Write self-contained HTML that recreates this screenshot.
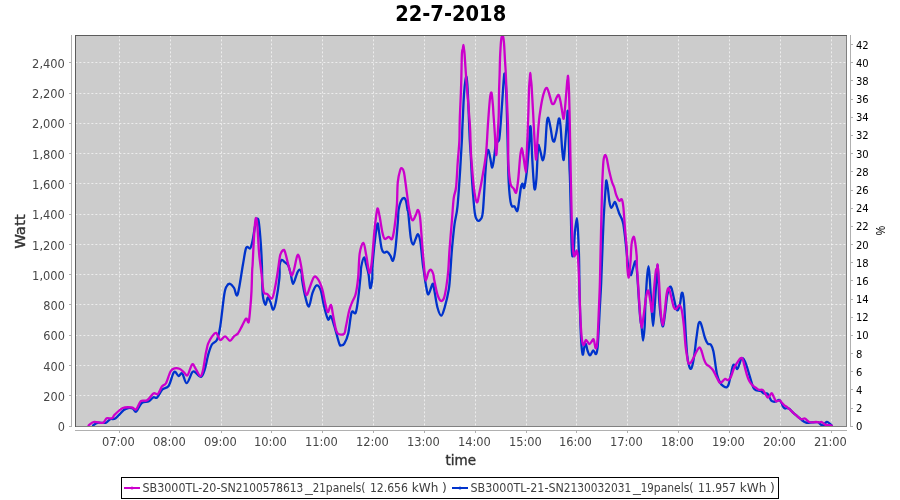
<!DOCTYPE html>
<html lang="en"><head><meta charset="utf-8"><title>22-7-2018</title>
<style>html,body{margin:0;padding:0;background:#fff;overflow:hidden}svg{display:block}text{font-family:"DejaVu Sans Condensed", "Liberation Sans", sans-serif}text.l{font-family:"Liberation Sans",sans-serif}text.w,g.w text{font-family:"DejaVu Sans","Liberation Sans",sans-serif}</style></head><body>
<svg width="900" height="500" viewBox="0 0 900 500">
<rect x="0" y="0" width="900" height="500" fill="#ffffff"/>
<text x="450.7" y="20.8" font-size="20.5" font-weight="bold" text-anchor="middle" fill="#000" textLength="111" lengthAdjust="spacingAndGlyphs">22-7-2018</text>
<rect x="75" y="35" width="772" height="392" fill="#cccccc"/>
<g stroke="#ffffff" stroke-width="1" stroke-dasharray="2 2" stroke-opacity="0.64">
<line x1="75.4" y1="395.5" x2="846" y2="395.5"/>
<line x1="75.4" y1="365.5" x2="846" y2="365.5"/>
<line x1="75.4" y1="335.5" x2="846" y2="335.5"/>
<line x1="75.4" y1="304.5" x2="846" y2="304.5"/>
<line x1="75.4" y1="274.5" x2="846" y2="274.5"/>
<line x1="75.4" y1="244.5" x2="846" y2="244.5"/>
<line x1="75.4" y1="214.5" x2="846" y2="214.5"/>
<line x1="75.4" y1="183.5" x2="846" y2="183.5"/>
<line x1="75.4" y1="153.5" x2="846" y2="153.5"/>
<line x1="75.4" y1="123.5" x2="846" y2="123.5"/>
<line x1="75.4" y1="93.5" x2="846" y2="93.5"/>
<line x1="75.4" y1="62.5" x2="846" y2="62.5"/>
<line x1="119.5" y1="35.4" x2="119.5" y2="426"/>
<line x1="170.5" y1="35.4" x2="170.5" y2="426"/>
<line x1="221.5" y1="35.4" x2="221.5" y2="426"/>
<line x1="271.5" y1="35.4" x2="271.5" y2="426"/>
<line x1="322.5" y1="35.4" x2="322.5" y2="426"/>
<line x1="373.5" y1="35.4" x2="373.5" y2="426"/>
<line x1="424.5" y1="35.4" x2="424.5" y2="426"/>
<line x1="475.5" y1="35.4" x2="475.5" y2="426"/>
<line x1="526.5" y1="35.4" x2="526.5" y2="426"/>
<line x1="576.5" y1="35.4" x2="576.5" y2="426"/>
<line x1="627.5" y1="35.4" x2="627.5" y2="426"/>
<line x1="678.5" y1="35.4" x2="678.5" y2="426"/>
<line x1="729.5" y1="35.4" x2="729.5" y2="426"/>
<line x1="780.5" y1="35.4" x2="780.5" y2="426"/>
<line x1="831.5" y1="35.4" x2="831.5" y2="426"/>
</g>
<clipPath id="pc"><rect x="75" y="35" width="772" height="392"/></clipPath>
<g clip-path="url(#pc)" fill="none" stroke-width="2.3" stroke-linejoin="round" stroke-linecap="round">
<path stroke="#0033cc" d="M93.1,425.5C93.8,425.1 95.5,423.2 97.6,422.8C99.7,422.4 103.6,423.4 105.7,422.8C107.8,422.2 108.6,419.9 110.2,419.2C111.8,418.4 113.3,419.8 115.6,418.3C117.8,416.8 121.6,411.9 123.7,410.2C125.8,408.5 126.7,408.3 128.2,408.0C129.7,407.7 131.3,407.8 132.7,408.4C134.0,409.0 134.8,412.5 136.3,411.6C137.8,410.7 139.6,404.7 141.7,403.0C143.8,401.3 146.9,402.2 148.9,401.2C150.9,400.2 152.1,397.8 153.4,397.2C154.8,396.6 155.5,398.9 157.0,397.6C158.5,396.3 160.5,391.4 162.4,389.5C164.3,387.6 166.8,388.8 168.7,385.9C170.6,383.0 172.4,373.6 174.1,372.0C175.8,370.4 177.2,375.8 178.6,376.0C179.9,376.2 180.8,372.1 182.2,373.3C183.5,374.5 185.0,383.4 186.7,383.2C188.3,383.0 190.8,374.3 192.1,372.4C193.4,370.5 193.3,371.2 194.8,372.0C196.3,372.8 199.4,377.3 201.1,376.9C202.8,376.5 203.5,373.4 204.7,369.7C205.9,365.9 207.1,358.6 208.3,354.4C209.5,350.2 210.5,346.9 211.9,344.5C213.3,342.1 215.6,342.7 217.0,339.7C218.4,336.7 219.0,334.3 220.2,326.7C221.4,319.1 223.2,301.1 224.3,294.3C225.4,287.6 225.8,287.9 226.7,286.2C227.6,284.4 228.8,283.5 230.0,283.8C231.2,284.1 232.7,286.0 234.0,287.8C235.3,289.6 236.1,298.4 237.6,294.6C239.1,290.8 241.5,272.6 242.9,264.8C244.3,257.0 245.0,250.6 246.2,247.8C247.4,245.1 249.1,249.5 250.2,248.3C251.3,247.1 251.8,244.2 252.6,240.5C253.4,236.8 254.3,229.6 255.1,225.9C255.9,222.2 256.8,218.9 257.5,218.6C258.2,218.3 258.6,220.4 259.1,224.3C259.6,228.2 260.2,235.3 260.7,242.1C261.2,248.8 261.6,256.9 261.9,264.8C262.2,272.7 262.2,283.8 262.4,289.4C262.6,295.0 262.7,295.7 263.2,298.3C263.7,300.9 264.9,304.9 265.6,304.8C266.4,304.7 266.9,297.9 267.7,297.5C268.5,297.1 269.6,300.4 270.5,302.4C271.4,304.4 272.3,310.0 273.2,309.7C274.1,309.4 275.1,306.1 276.1,300.8C277.1,295.5 278.8,284.1 279.4,278.1C280.0,272.1 279.3,267.8 279.7,264.8C280.1,261.8 280.9,260.3 281.8,259.9C282.7,259.5 283.9,261.4 285.0,262.4C286.1,263.3 287.4,263.7 288.3,265.6C289.2,267.5 289.9,270.7 290.7,273.7C291.5,276.7 292.0,283.9 293.1,283.8C294.2,283.7 296.1,275.2 297.2,272.9C298.3,270.5 298.9,269.6 299.6,269.7C300.4,269.8 301.3,272.0 301.7,273.7C302.1,275.4 301.5,275.9 302.1,279.7C302.7,283.5 304.2,292.2 305.3,296.7C306.4,301.1 307.7,307.1 308.9,306.4C310.1,305.7 311.3,296.2 312.6,292.7C313.9,289.2 315.2,285.8 316.6,285.4C318.0,285.0 319.5,286.8 320.7,290.2C321.9,293.6 322.7,300.7 323.9,305.6C325.1,310.5 326.8,317.6 328.0,319.4C329.2,321.2 329.8,315.0 330.9,316.2C332.0,317.4 333.1,322.1 334.5,326.7C335.9,331.3 338.2,340.6 339.3,343.7C340.4,346.8 340.3,345.3 341.1,345.3C341.9,345.3 343.1,345.7 344.3,343.7C345.5,341.7 347.1,338.4 348.3,333.2C349.5,328.0 350.4,315.8 351.6,312.4C352.8,309.0 354.5,315.1 355.6,312.9C356.7,310.7 357.3,305.3 358.1,299.2C358.9,293.1 360.0,282.0 360.5,276.5C361.0,271.0 360.7,269.6 361.3,266.4C361.9,263.2 363.3,257.8 364.1,257.5C364.9,257.2 365.4,262.0 366.2,264.8C366.9,267.6 367.9,270.6 368.6,274.5C369.3,278.4 369.6,287.2 370.2,288.1C370.8,289.0 371.8,283.6 372.2,279.7C372.6,275.8 372.1,271.6 372.6,264.8C373.1,258.0 374.3,245.8 375.1,238.9C375.9,232.0 376.8,224.6 377.5,223.5C378.2,222.4 378.4,228.2 379.1,232.4C379.8,236.6 380.8,245.2 381.6,248.6C382.4,252.0 383.1,252.1 384.0,252.6C384.9,253.1 386.1,251.2 387.2,251.8C388.3,252.4 389.6,254.4 390.5,255.9C391.4,257.4 392.1,261.6 392.9,260.7C393.7,259.8 394.5,256.5 395.3,250.2C396.1,243.9 397.2,229.4 397.8,222.7C398.4,215.9 398.1,213.4 398.6,209.7C399.2,206.0 400.2,202.6 401.1,200.7C402.0,198.8 403.2,198.0 404.0,198.0C404.8,198.0 405.3,198.8 405.9,200.7C406.5,202.6 407.1,207.6 407.5,209.7C407.9,211.8 407.8,208.4 408.3,213.0C408.8,217.6 409.9,232.1 410.7,237.3C411.5,242.6 412.3,244.2 413.1,244.5C413.9,244.8 414.8,240.6 415.6,238.9C416.4,237.2 417.2,233.8 418.0,234.3C418.8,234.8 419.6,237.0 420.4,242.1C421.2,247.2 422.3,260.2 422.9,264.8C423.4,269.4 423.2,266.4 423.7,270.0C424.2,273.6 425.3,282.1 426.1,286.2C426.9,290.2 427.4,294.7 428.5,294.3C429.6,293.9 431.7,284.6 432.6,283.8C433.6,283.0 433.4,285.5 434.2,289.4C435.0,293.3 436.2,302.9 437.4,307.3C438.6,311.7 440.0,315.7 441.2,315.7C442.4,315.7 443.4,311.7 444.7,307.3C446.0,302.9 447.8,295.6 448.8,289.4C449.8,283.2 450.0,276.8 450.5,270.0C451.0,263.2 451.3,256.2 452.0,248.6C452.7,241.0 453.6,231.3 454.5,224.3C455.4,217.3 456.6,215.6 457.5,206.4C458.4,197.2 459.5,180.3 460.2,169.2C460.9,158.1 461.5,147.1 461.9,140.0C462.3,132.9 462.0,134.3 462.4,126.7C462.8,119.1 463.5,102.3 464.0,94.3C464.5,86.3 465.2,81.6 465.6,78.9C466.1,76.2 466.3,75.5 466.7,78.1C467.1,80.7 467.5,86.2 467.9,94.3C468.3,102.4 468.9,118.8 469.2,126.7C469.5,134.7 469.6,137.1 469.9,142.0C470.2,146.9 470.4,149.0 470.8,156.2C471.2,163.4 471.7,175.9 472.4,185.4C473.1,194.9 474.0,207.1 474.8,212.9C475.6,218.7 476.4,219.1 477.3,220.2C478.2,221.3 479.6,220.9 480.5,219.4C481.4,217.9 482.1,219.1 482.9,211.3C483.7,203.5 484.7,182.1 485.4,172.4C486.1,162.7 486.5,156.7 487.0,153.0C487.5,149.3 488.1,149.7 488.6,150.5C489.1,151.3 489.6,155.0 490.2,157.8C490.8,160.6 491.6,167.8 492.3,167.5C493.0,167.2 493.7,160.5 494.3,156.2C494.9,151.9 495.5,144.1 495.9,141.6C496.3,139.1 496.2,141.6 496.7,141.3C497.2,141.0 498.4,142.7 499.1,139.7C499.8,136.7 500.1,130.2 500.7,123.5C501.2,116.8 501.8,107.0 502.4,99.2C502.9,91.4 503.6,80.7 504.0,76.5C504.4,72.3 504.5,73.5 504.8,74.0C505.1,74.5 505.3,75.4 505.6,79.7C505.9,84.0 506.2,91.6 506.5,100.0C506.8,108.4 507.1,120.0 507.3,130.0C507.6,140.0 507.8,151.1 508.0,160.0C508.2,168.9 508.4,176.8 508.8,183.7C509.2,190.6 509.9,197.8 510.5,201.6C511.1,205.4 511.4,205.6 512.1,206.4C512.8,207.2 513.6,205.6 514.5,206.4C515.4,207.2 516.6,212.3 517.4,211.0C518.2,209.7 518.8,202.3 519.4,198.3C520.0,194.3 520.5,189.4 521.0,187.0C521.5,184.6 522.1,183.6 522.6,183.7C523.1,183.8 523.5,189.7 524.2,187.8C524.9,185.9 525.9,179.0 526.7,172.4C527.5,165.8 528.2,155.7 528.8,148.1C529.4,140.5 529.8,128.9 530.2,126.7C530.6,124.5 530.9,129.6 531.3,135.0C531.6,140.4 531.8,150.5 532.3,159.4C532.8,168.3 533.7,185.3 534.4,188.6C535.1,191.8 535.8,185.7 536.4,178.9C537.0,172.2 537.5,153.5 538.0,148.1C538.5,142.7 538.6,145.7 539.1,146.5C539.6,147.3 540.2,150.7 540.8,153.0C541.4,155.3 542.2,160.8 542.9,160.2C543.6,159.6 544.4,155.7 545.0,149.7C545.6,143.7 546.2,129.6 546.7,124.3C547.2,119.0 547.7,117.3 548.3,117.8C548.9,118.3 549.8,124.0 550.5,127.5C551.2,131.0 551.8,136.6 552.4,138.9C553.0,141.2 553.6,142.4 554.3,141.3C555.0,140.2 555.6,136.2 556.4,132.4C557.2,128.6 558.2,119.7 558.9,118.6C559.6,117.5 560.0,120.9 560.5,125.9C561.0,130.9 561.6,142.9 562.1,148.6C562.6,154.3 563.2,161.2 563.7,159.9C564.2,158.6 564.9,147.2 565.4,140.5C565.9,133.8 566.6,124.3 567.0,119.4C567.4,114.5 567.5,109.0 567.8,111.2C568.1,113.4 568.3,123.5 568.6,132.4C568.9,141.3 569.2,156.9 569.4,164.8C569.6,172.7 569.8,172.1 570.0,180.0C570.2,187.9 570.5,201.6 570.8,212.4C571.1,223.2 571.3,237.5 571.6,244.8C571.9,252.1 572.0,255.0 572.4,256.1C572.8,257.2 573.3,255.1 573.7,251.3C574.1,247.5 574.3,239.0 574.8,233.5C575.3,228.0 576.3,218.1 576.9,218.1C577.5,218.1 577.8,227.7 578.1,233.5C578.4,239.3 578.7,247.5 578.9,252.9C579.1,258.4 579.1,258.6 579.2,266.2C579.3,273.8 579.4,286.4 579.7,298.6C580.0,310.8 580.6,329.9 581.1,339.2C581.6,348.5 582.2,353.1 582.7,354.5C583.2,355.9 583.8,349.1 584.3,347.3C584.8,345.6 585.4,343.5 585.9,344.0C586.4,344.5 586.8,348.6 587.5,350.5C588.2,352.4 589.0,355.4 590.0,355.4C591.0,355.4 592.2,350.7 593.2,350.5C594.2,350.3 595.3,354.6 596.0,354.1C596.7,353.6 597.1,352.0 597.6,347.3C598.1,342.6 598.5,332.4 598.9,326.2C599.2,320.0 599.5,313.2 599.7,310.0C599.9,306.8 599.6,311.3 599.9,306.7C600.1,302.1 600.7,294.1 601.2,282.4C601.7,270.7 602.4,248.4 602.9,236.7C603.4,225.0 603.5,220.5 604.0,212.4C604.5,204.3 605.2,193.4 605.6,188.1C606.0,182.8 606.0,180.2 606.4,180.5C606.8,180.8 607.5,186.3 608.0,189.7C608.5,193.1 608.8,198.1 609.3,201.1C609.8,204.1 610.4,207.8 611.3,207.9C612.2,208.0 613.9,202.1 614.8,201.9C615.7,201.7 616.2,204.8 616.9,206.7C617.6,208.6 618.3,211.2 619.1,213.2C619.9,215.2 621.1,217.0 621.8,218.9C622.5,220.8 622.9,221.5 623.4,224.5C623.9,227.5 624.5,232.0 625.0,236.7C625.5,241.4 626.2,248.0 626.7,252.9C627.2,257.8 627.6,262.5 628.3,266.2C629.0,269.9 629.9,274.8 630.7,275.1C631.5,275.4 632.3,270.1 633.1,267.8C633.9,265.5 634.9,260.2 635.6,261.3C636.3,262.4 636.7,268.1 637.2,274.3C637.7,280.5 638.3,291.0 638.8,298.6C639.3,306.2 639.9,315.1 640.4,319.7C640.9,324.3 641.0,322.7 641.5,326.2C642.0,329.7 642.6,340.5 643.1,340.5C643.6,340.5 644.3,331.8 644.7,326.2C645.1,320.6 644.9,314.5 645.3,306.7C645.7,298.9 646.4,285.9 646.9,279.2C647.4,272.4 648.0,266.2 648.5,266.2C649.0,266.2 649.3,272.4 649.8,279.2C650.3,285.9 651.0,298.9 651.5,306.7C652.0,314.5 652.6,326.1 653.1,326.1C653.6,326.1 654.2,314.0 654.7,306.7C655.2,299.4 655.8,288.6 656.3,282.4C656.8,276.2 657.2,272.1 657.4,269.4C657.6,266.7 657.5,263.9 657.7,266.0C657.9,268.1 658.4,276.6 658.6,282.0C658.8,287.4 658.7,292.3 659.1,298.6C659.5,304.9 660.5,315.1 661.2,319.7C661.9,324.3 662.5,327.2 663.1,326.1C663.8,325.0 664.4,318.3 665.1,313.2C665.8,308.1 666.5,299.7 667.2,295.4C668.0,291.1 668.9,288.5 669.6,287.3C670.3,286.1 670.8,286.5 671.5,288.1C672.2,289.7 672.9,293.9 673.6,297.0C674.3,300.1 675.1,304.5 675.8,306.7C676.5,308.9 677.0,310.8 677.7,310.3C678.4,309.8 679.5,306.2 680.1,303.5C680.7,300.8 681.0,296.0 681.4,294.3C681.8,292.6 682.3,292.1 682.7,293.5C683.1,294.9 683.5,296.0 684.0,302.4C684.5,308.8 685.1,322.8 685.6,331.6C686.1,340.4 686.6,349.5 687.2,355.4C687.8,361.2 688.6,364.5 689.3,366.7C690.0,368.9 690.6,369.4 691.2,368.6C691.9,367.8 692.5,365.4 693.2,361.8C693.9,358.2 694.8,351.3 695.3,347.3C695.8,343.3 695.8,342.0 696.4,338.0C697.0,334.0 697.9,326.1 698.6,323.5C699.3,320.9 699.9,321.8 700.5,322.6C701.1,323.4 701.6,325.7 702.4,328.3C703.1,330.9 704.1,335.4 705.0,338.0C705.9,340.6 706.8,342.6 707.8,343.7C708.8,344.8 710.1,343.5 711.0,344.8C711.9,346.1 712.7,348.1 713.4,351.3C714.1,354.6 714.8,360.2 715.4,364.3C716.0,368.4 716.5,372.5 717.3,375.6C718.1,378.7 719.2,381.1 720.2,382.9C721.2,384.7 722.4,385.5 723.5,386.2C724.6,386.9 725.9,387.6 726.7,387.3C727.6,387.0 727.9,386.4 728.6,384.5C729.3,382.6 730.0,378.7 730.7,375.6C731.4,372.5 732.2,367.6 732.9,365.9C733.6,364.1 734.1,364.6 734.8,365.1C735.5,365.7 736.5,369.3 737.2,369.2C738.0,369.1 738.6,366.1 739.3,364.3C740.0,362.5 740.6,359.5 741.3,358.6C742.0,357.7 742.9,358.2 743.7,359.1C744.5,360.1 745.3,362.1 746.1,364.3C746.9,366.5 747.8,369.7 748.6,372.4C749.4,375.1 750.2,377.9 751.0,380.5C751.8,383.1 752.6,386.2 753.4,387.8C754.2,389.4 754.7,389.7 755.9,390.2C757.1,390.7 759.4,390.4 760.7,391.0C762.1,391.6 762.9,393.1 764.0,393.5C765.1,393.9 766.3,392.8 767.2,393.5C768.1,394.2 768.9,396.3 769.6,397.5C770.3,398.7 770.7,400.1 771.4,400.8C772.1,401.5 772.8,401.6 773.6,401.7C774.4,401.8 775.4,401.6 776.3,401.3C777.2,401.0 778.2,399.7 779.0,399.9C779.8,400.1 780.6,401.5 781.3,402.6C782.0,403.7 782.5,405.7 783.1,406.7C783.7,407.7 784.2,408.3 784.9,408.5C785.6,408.7 786.4,407.9 787.1,408.0C787.9,408.1 788.6,408.3 789.4,408.9C790.2,409.5 791.0,410.6 792.1,411.6C793.2,412.6 794.5,413.8 795.7,414.8C796.9,415.9 798.2,417.0 799.3,417.9C800.3,418.8 801.0,419.5 802.0,420.2C803.0,420.9 804.1,421.8 805.1,422.2C806.1,422.6 806.6,422.9 807.8,422.9C809.0,422.9 810.6,422.5 812.3,422.4C813.9,422.3 816.4,422.0 817.7,422.2C819.0,422.4 819.3,423.3 820.0,423.8C820.7,424.3 821.1,424.9 821.8,425.1C822.5,425.4 823.4,425.7 824.0,425.3C824.6,424.9 824.9,423.4 825.4,422.9C825.9,422.3 826.2,422.1 826.7,422.0C827.2,421.9 827.9,422.2 828.5,422.6C829.1,423.0 829.7,423.7 830.3,424.2C830.9,424.7 831.6,425.4 831.9,425.6"/>
<path stroke="#cc00cc" d="M88.6,425.5C89.5,424.9 91.6,422.3 94.0,421.9C96.4,421.4 100.9,423.4 103.0,422.8C105.1,422.2 105.1,419.1 106.6,418.3C108.1,417.6 110.7,418.9 112.0,418.3C113.3,417.7 112.9,416.4 114.7,414.7C116.5,413.0 119.9,409.2 122.8,408.0C125.7,406.8 129.6,407.3 131.8,407.5C134.1,407.7 134.8,410.4 136.3,409.3C137.8,408.2 139.0,402.7 140.8,401.2C142.6,399.7 145.0,401.6 147.1,400.3C149.2,399.0 151.6,394.6 153.4,393.5C155.2,392.4 156.5,395.2 157.9,394.0C159.3,392.8 160.7,388.2 162.0,386.4C163.3,384.6 164.6,385.7 166.0,383.2C167.4,380.7 169.1,374.0 170.5,371.5C171.9,369.0 173.1,368.8 174.6,368.4C176.1,367.9 177.9,368.1 179.5,368.8C181.1,369.5 182.7,371.3 184.0,372.4C185.3,373.4 186.2,376.5 187.6,375.1C188.9,373.8 190.8,365.4 192.1,364.3C193.4,363.2 194.3,366.9 195.7,368.8C197.0,370.8 199.0,375.7 200.2,376.0C201.4,376.3 202.0,374.2 202.9,370.6C203.8,367.0 205.0,357.8 205.6,354.4C206.2,351.0 206.1,352.0 206.5,350.2C206.9,348.4 207.2,346.0 208.1,343.7C209.0,341.4 210.8,338.2 212.1,336.4C213.4,334.6 214.8,332.3 216.2,332.9C217.5,333.5 218.7,339.4 220.2,340.0C221.7,340.6 223.5,336.3 225.1,336.4C226.7,336.5 228.5,340.8 230.0,340.8C231.5,340.8 232.7,337.7 234.0,336.4C235.3,335.1 236.8,334.9 238.1,333.2C239.4,331.4 240.8,328.3 242.1,325.9C243.4,323.5 245.1,319.2 246.2,318.6C247.3,318.0 247.9,323.8 248.6,322.2C249.3,320.6 249.7,314.1 250.2,308.9C250.7,303.7 251.2,297.6 251.5,291.1C251.8,284.6 252.0,274.4 252.2,270.0C252.4,265.6 252.3,269.7 252.6,264.8C252.9,259.9 253.4,247.5 253.8,240.5C254.2,233.5 254.7,226.4 255.1,222.7C255.5,219.0 255.8,217.4 256.2,218.2C256.6,219.0 257.0,221.6 257.5,227.5C258.0,233.4 258.4,245.7 259.1,253.5C259.8,261.3 261.1,269.6 261.6,274.5C262.2,279.4 262.0,280.0 262.4,283.0C262.8,286.0 263.2,290.9 264.0,292.7C264.8,294.5 265.8,293.1 267.2,294.0C268.6,294.9 270.8,299.6 272.1,298.3C273.5,297.0 274.4,290.7 275.3,286.2C276.2,281.7 277.0,276.5 277.8,271.3C278.6,266.1 279.4,258.6 280.2,255.1C281.0,251.6 282.1,250.8 282.9,250.2C283.7,249.6 284.1,249.4 285.0,251.8C285.9,254.2 287.2,260.9 288.3,264.8C289.4,268.7 290.6,274.5 291.5,275.3C292.4,276.1 293.1,272.9 294.0,269.7C294.9,266.5 296.3,258.1 297.2,255.9C298.1,253.7 298.4,254.9 299.1,256.6C299.8,258.4 300.4,262.0 301.2,266.4C302.0,270.8 302.8,278.2 303.7,283.0C304.6,287.8 305.3,294.6 306.4,295.1C307.5,295.6 308.9,289.2 310.2,286.2C311.5,283.1 312.8,277.9 314.2,276.8C315.6,275.7 316.9,277.6 318.3,279.7C319.7,281.8 321.2,285.9 322.3,289.4C323.4,292.9 323.8,297.0 324.7,300.8C325.6,304.6 326.7,311.4 327.7,312.1C328.7,312.8 330.0,304.5 330.9,304.8C331.8,305.1 332.1,310.1 332.8,313.7C333.5,317.3 334.5,323.4 335.3,326.7C336.1,330.0 336.2,332.3 337.7,333.5C339.1,334.7 342.6,335.1 344.0,334.0C345.4,332.9 345.0,330.6 345.9,326.7C346.8,322.8 348.1,314.7 349.2,310.5C350.3,306.3 351.3,304.3 352.4,301.6C353.5,298.9 354.7,298.2 355.6,294.3C356.6,290.4 357.4,284.9 358.1,278.1C358.8,271.3 358.8,259.4 359.7,253.5C360.6,247.6 362.3,242.6 363.4,242.9C364.5,243.2 365.2,250.1 366.2,255.1C367.2,260.1 368.5,271.8 369.4,272.9C370.3,274.0 371.0,268.4 371.8,261.6C372.6,254.9 373.5,240.7 374.3,232.4C375.1,224.2 376.1,216.0 376.7,212.1C377.3,208.2 377.5,207.9 378.0,208.9C378.5,209.9 379.2,213.9 379.9,217.8C380.6,221.7 381.6,228.9 382.4,232.4C383.2,235.9 383.7,238.2 384.8,238.9C385.9,239.7 387.6,236.9 388.8,236.9C390.0,236.9 391.2,240.5 392.1,238.9C393.1,237.3 393.7,233.2 394.5,227.5C395.3,221.8 396.3,212.5 396.9,204.9C397.4,197.3 397.2,187.9 397.8,182.1C398.4,176.3 399.5,172.3 400.2,170.0C400.9,167.7 401.3,167.9 401.9,168.3C402.5,168.7 403.2,168.5 404.0,172.4C404.8,176.3 405.8,185.6 406.7,191.8C407.6,198.0 408.3,205.0 409.2,209.7C410.1,214.4 411.2,219.2 412.3,220.2C413.4,221.1 414.7,217.1 415.6,215.4C416.6,213.7 417.2,209.6 418.0,210.0C418.8,210.4 419.4,212.2 420.1,217.8C420.8,223.4 421.4,234.8 422.1,243.7C422.8,252.6 423.9,265.2 424.5,271.3C425.1,277.4 425.1,280.4 425.8,280.5C426.5,280.6 427.6,273.9 428.5,272.1C429.4,270.3 430.2,269.3 431.0,269.7C431.8,270.1 432.9,272.8 433.4,274.5C433.9,276.2 433.5,276.4 434.2,279.7C434.9,283.0 436.3,290.8 437.4,294.3C438.5,297.8 439.6,300.1 440.7,300.8C441.8,301.5 442.9,300.7 443.9,298.3C444.8,295.9 445.7,290.9 446.4,286.2C447.1,281.5 447.8,276.3 448.3,270.0C448.8,263.7 449.0,257.0 449.6,248.6C450.2,240.2 451.3,227.8 452.0,219.4C452.7,211.0 453.0,203.7 453.7,198.3C454.4,192.9 455.4,193.2 456.1,187.0C456.8,180.8 457.2,168.9 457.8,161.1C458.4,153.3 459.1,147.1 459.4,140.0C459.7,132.9 459.5,127.6 459.8,118.6C460.1,109.6 460.8,96.9 461.1,86.2C461.5,75.5 461.6,60.6 461.9,54.3C462.2,48.0 462.6,50.2 462.9,48.6C463.1,47.0 463.2,44.8 463.4,44.8C463.6,44.8 463.7,47.0 463.9,48.6C464.1,50.2 464.2,49.3 464.6,54.3C465.0,59.3 465.7,71.9 466.2,78.6C466.7,85.3 466.9,86.3 467.5,94.3C468.1,102.3 469.5,118.2 470.0,126.7C470.5,135.2 470.4,139.3 470.6,145.0C470.9,150.7 470.9,153.8 471.5,161.1C472.1,168.4 473.1,181.7 474.0,188.6C474.9,195.5 476.0,201.9 476.9,202.4C477.8,202.9 478.6,196.5 479.6,191.8C480.6,187.1 481.8,180.5 482.9,174.0C484.0,167.5 485.3,160.9 486.1,153.0C486.9,145.1 487.2,135.7 487.8,126.7C488.4,117.7 489.3,104.9 489.9,99.2C490.5,93.5 491.0,91.9 491.5,92.7C492.0,93.5 492.4,100.1 492.8,104.0C493.2,107.9 493.2,110.8 493.6,116.0C494.0,121.2 494.5,128.5 494.9,135.0C495.3,141.5 495.8,154.5 496.2,155.0C496.6,155.5 497.1,144.5 497.5,138.0C497.9,131.5 498.4,123.3 498.7,116.0C498.9,108.7 498.9,100.8 499.0,94.0C499.1,87.2 499.4,81.6 499.6,75.0C499.8,68.4 499.9,60.2 500.2,54.3C500.5,48.4 500.8,42.8 501.2,39.7C501.6,36.6 502.2,35.0 502.7,35.5C503.2,36.0 503.6,38.5 504.0,43.0C504.4,47.5 504.8,57.9 505.1,62.4C505.4,66.9 505.3,64.7 505.6,70.0C505.9,75.3 506.3,84.8 506.7,94.3C507.1,103.8 507.8,118.2 508.0,126.7C508.2,135.2 508.1,138.7 508.2,145.0C508.3,151.3 508.0,157.9 508.4,164.3C508.8,170.8 509.6,179.6 510.5,183.7C511.4,187.8 512.8,187.1 513.7,188.6C514.6,190.1 515.4,193.9 516.1,192.6C516.8,191.2 517.4,186.6 518.1,180.5C518.8,174.4 519.6,161.6 520.2,156.2C520.8,150.8 521.3,148.1 521.8,148.1C522.3,148.1 522.7,152.1 523.4,156.2C524.1,160.2 525.4,172.4 525.9,172.4C526.4,172.4 526.3,162.4 526.6,156.0C526.9,149.6 527.3,141.3 527.6,134.0C527.9,126.7 528.2,119.4 528.4,112.0C528.6,104.6 528.8,95.0 529.0,89.4C529.2,83.8 529.6,81.3 529.8,78.5C530.0,75.7 530.1,72.8 530.3,72.8C530.5,72.8 530.6,76.5 530.8,78.5C531.0,80.5 531.1,79.3 531.5,84.6C531.9,89.9 532.5,102.3 533.0,110.5C533.5,118.7 533.7,125.8 534.2,134.0C534.7,142.2 535.5,158.5 536.0,159.5C536.5,160.5 537.1,145.8 537.5,140.0C537.9,134.2 538.2,129.1 538.6,125.0C539.0,120.9 539.0,119.6 539.6,115.4C540.2,111.2 541.3,104.0 542.1,100.0C542.9,96.0 543.7,93.1 544.5,91.1C545.3,89.1 546.1,87.6 546.9,88.1C547.7,88.6 548.5,91.8 549.3,94.3C550.1,96.8 551.0,101.7 551.8,103.2C552.6,104.7 553.4,104.2 554.2,103.2C555.0,102.2 555.9,98.8 556.6,97.5C557.4,96.2 558.0,94.3 558.7,95.1C559.4,95.9 560.0,99.0 560.7,102.4C561.4,105.8 562.3,112.8 562.8,115.4C563.3,118.0 563.4,120.0 563.9,117.8C564.4,115.6 565.0,108.5 565.5,102.4C566.0,96.3 566.9,85.0 567.2,81.3C567.5,77.6 567.4,81.4 567.5,80.5C567.6,79.6 567.8,75.6 568.0,75.8C568.2,76.0 568.3,78.4 568.5,81.5C568.7,84.6 568.9,87.2 569.1,94.3C569.3,101.4 569.6,113.7 569.8,124.0C570.0,134.3 570.2,146.5 570.4,156.0C570.6,165.5 570.7,172.8 570.9,181.0C571.1,189.2 571.2,197.1 571.4,205.0C571.6,212.9 571.7,220.9 572.0,228.6C572.3,236.3 572.8,246.7 573.2,251.3C573.7,255.9 574.2,256.4 574.7,256.3C575.2,256.2 576.0,250.5 576.5,250.5C577.0,250.5 577.5,252.3 577.9,256.3C578.3,260.3 578.6,267.2 578.9,274.3C579.2,281.4 579.4,291.0 579.7,298.6C580.0,306.2 580.2,314.3 580.5,320.0C580.8,325.7 581.0,329.3 581.3,333.0C581.6,336.7 581.9,340.4 582.4,342.4C582.9,344.4 583.4,345.2 584.0,344.8C584.6,344.4 585.0,340.1 585.9,340.0C586.8,339.9 588.2,343.7 589.2,344.0C590.2,344.3 590.9,342.4 591.6,341.6C592.4,340.9 593.0,338.4 593.7,339.5C594.4,340.6 595.0,347.6 595.6,348.1C596.2,348.6 596.8,347.8 597.3,342.4C597.8,337.0 598.2,326.0 598.6,316.0C599.0,306.0 599.6,293.4 599.9,282.4C600.2,271.4 600.4,259.6 600.6,250.0C600.8,240.4 601.0,233.3 601.2,225.0C601.4,216.7 601.6,207.5 601.8,200.0C602.0,192.5 602.1,186.4 602.4,180.0C602.7,173.6 603.0,165.8 603.4,161.6C603.8,157.4 604.4,155.6 605.0,155.1C605.6,154.6 606.1,156.0 606.8,158.5C607.5,161.0 608.1,166.1 609.0,170.0C609.9,173.9 611.1,179.1 612.0,182.0C612.9,184.9 613.5,185.4 614.2,187.5C614.9,189.6 615.3,192.4 616.1,194.6C616.9,196.8 618.2,199.9 619.1,200.7C620.0,201.5 621.1,198.3 621.8,199.4C622.5,200.5 622.9,202.6 623.4,207.5C623.9,212.4 624.5,221.8 625.0,228.6C625.5,235.3 626.3,241.7 626.7,248.0C627.1,254.3 626.9,261.3 627.2,266.2C627.6,271.1 628.3,278.0 628.8,277.5C629.3,277.0 629.9,268.4 630.4,263.0C630.9,257.6 631.0,249.2 631.5,244.8C632.0,240.4 633.0,237.0 633.6,236.7C634.2,236.4 634.8,240.0 635.3,243.2C635.8,246.4 636.4,252.3 636.7,256.1C637.0,259.9 636.6,260.5 636.9,266.2C637.2,271.9 638.0,282.4 638.5,290.5C639.0,298.6 639.6,308.6 640.1,314.8C640.6,321.0 641.1,327.8 641.7,327.8C642.3,327.8 643.0,319.9 643.7,314.8C644.4,309.7 645.4,301.1 646.1,297.0C646.9,292.9 647.5,290.0 648.2,290.5C648.9,291.0 649.6,296.7 650.2,300.2C650.9,303.7 651.5,313.2 652.1,311.6C652.7,310.0 653.3,297.2 653.9,290.5C654.5,283.8 655.3,274.8 655.8,271.1C656.3,267.5 656.7,269.8 657.0,268.6C657.3,267.5 657.3,264.2 657.5,264.2C657.7,264.2 657.7,265.8 658.0,268.8C658.3,271.8 658.6,275.3 659.1,282.4C659.6,289.5 660.1,304.5 660.7,311.6C661.3,318.8 662.1,325.3 662.8,325.3C663.5,325.3 664.1,316.9 664.7,311.6C665.4,306.3 666.0,297.6 666.7,293.7C667.4,289.8 668.0,287.6 668.8,288.1C669.5,288.7 670.4,293.9 671.2,297.0C672.0,300.1 672.8,304.7 673.6,306.7C674.4,308.7 675.2,309.4 676.1,309.1C677.0,308.8 678.4,305.0 679.3,305.1C680.2,305.2 680.9,306.4 681.7,309.9C682.5,313.4 683.3,320.2 683.9,326.2C684.5,332.1 684.9,339.9 685.5,345.6C686.1,351.3 687.2,357.2 687.7,360.2C688.2,363.2 688.1,363.1 688.6,363.5C689.1,363.9 689.9,363.6 690.7,362.7C691.5,361.8 692.5,359.7 693.5,357.8C694.5,355.9 695.7,353.1 696.7,351.3C697.7,349.6 698.7,347.3 699.5,347.3C700.3,347.3 700.9,349.3 701.6,351.3C702.4,353.3 703.2,357.2 704.0,359.4C704.8,361.6 705.4,363.1 706.4,364.3C707.4,365.5 708.6,365.8 709.7,366.7C710.8,367.6 711.8,368.4 712.9,370.0C714.0,371.6 715.1,374.3 716.2,376.4C717.3,378.5 718.5,381.4 719.4,382.4C720.3,383.3 720.8,382.7 721.8,382.1C722.8,381.5 724.1,379.2 725.1,378.9C726.1,378.6 727.1,380.5 728.0,380.2C728.9,379.9 729.7,379.3 730.7,377.3C731.7,375.3 732.9,370.7 734.0,368.3C735.1,365.9 736.1,364.4 737.2,362.7C738.3,361.0 739.6,358.7 740.5,358.1C741.4,357.5 741.9,357.8 742.6,359.1C743.3,360.4 743.8,363.3 744.5,365.9C745.2,368.5 746.1,372.2 746.9,374.8C747.7,377.4 748.4,379.5 749.4,381.3C750.4,383.1 751.5,384.3 752.6,385.4C753.7,386.5 754.8,387.1 755.9,387.8C757.0,388.6 758.0,389.5 759.1,389.9C760.2,390.2 761.6,389.2 762.7,389.9C763.8,390.6 764.8,393.0 765.6,394.3C766.4,395.6 767.0,397.2 767.7,397.5C768.4,397.8 768.9,396.6 769.6,395.9C770.3,395.2 771.0,393.0 771.7,393.1C772.4,393.2 773.0,395.4 773.7,396.7C774.4,398.0 775.1,400.6 776.1,401.2C777.1,401.8 778.9,400.1 779.8,400.3C780.7,400.5 780.9,401.8 781.7,402.6C782.5,403.4 783.5,404.6 784.4,405.3C785.3,406.1 786.2,406.4 787.1,407.1C788.0,407.8 788.9,408.6 789.8,409.4C790.7,410.2 791.5,411.1 792.5,412.1C793.5,413.1 794.9,414.1 796.1,415.2C797.3,416.2 798.7,417.7 799.7,418.4C800.7,419.1 801.2,419.3 802.0,419.3C802.8,419.3 803.9,418.2 804.7,418.4C805.5,418.5 806.1,419.6 806.9,420.2C807.6,420.8 808.3,421.6 809.2,422.0C810.1,422.4 811.2,422.4 812.3,422.4C813.4,422.4 814.8,422.0 815.9,422.0C817.0,422.0 818.1,422.4 819.1,422.4C820.1,422.4 821.0,421.8 821.8,422.0C822.6,422.2 823.2,423.3 824.0,423.8C824.8,424.3 825.7,424.9 826.7,425.1C827.7,425.3 829.1,425.0 829.9,425.1C830.7,425.2 831.4,425.5 831.7,425.6"/>
</g>
<g shape-rendering="crispEdges">
<rect x="75" y="426" width="772" height="1" fill="#808080"/>
<rect x="846" y="35" width="1" height="392" fill="#808080"/>
<rect x="75" y="35" width="772" height="1" fill="#5c5c5c"/>
<rect x="75" y="35" width="1" height="392" fill="#5c5c5c"/>
</g>
<g fill="#b0b0b0" shape-rendering="crispEdges">
<rect x="71" y="35" width="1" height="392"/>
<rect x="850" y="35" width="1" height="392"/>
<rect x="75" y="430" width="772" height="1"/>
<rect x="69" y="426" width="2" height="1"/>
<rect x="69" y="395" width="2" height="1"/>
<rect x="69" y="365" width="2" height="1"/>
<rect x="69" y="335" width="2" height="1"/>
<rect x="69" y="304" width="2" height="1"/>
<rect x="69" y="274" width="2" height="1"/>
<rect x="69" y="244" width="2" height="1"/>
<rect x="69" y="214" width="2" height="1"/>
<rect x="69" y="183" width="2" height="1"/>
<rect x="69" y="153" width="2" height="1"/>
<rect x="69" y="123" width="2" height="1"/>
<rect x="69" y="93" width="2" height="1"/>
<rect x="69" y="62" width="2" height="1"/>
<rect x="851" y="426" width="2" height="1"/>
<rect x="851" y="408" width="2" height="1"/>
<rect x="851" y="389" width="2" height="1"/>
<rect x="851" y="371" width="2" height="1"/>
<rect x="851" y="353" width="2" height="1"/>
<rect x="851" y="335" width="2" height="1"/>
<rect x="851" y="317" width="2" height="1"/>
<rect x="851" y="299" width="2" height="1"/>
<rect x="851" y="280" width="2" height="1"/>
<rect x="851" y="262" width="2" height="1"/>
<rect x="851" y="244" width="2" height="1"/>
<rect x="851" y="226" width="2" height="1"/>
<rect x="851" y="208" width="2" height="1"/>
<rect x="851" y="190" width="2" height="1"/>
<rect x="851" y="171" width="2" height="1"/>
<rect x="851" y="153" width="2" height="1"/>
<rect x="851" y="135" width="2" height="1"/>
<rect x="851" y="117" width="2" height="1"/>
<rect x="851" y="99" width="2" height="1"/>
<rect x="851" y="80" width="2" height="1"/>
<rect x="851" y="62" width="2" height="1"/>
<rect x="851" y="44" width="2" height="1"/>
<rect x="119" y="431" width="1" height="2"/>
<rect x="170" y="431" width="1" height="2"/>
<rect x="221" y="431" width="1" height="2"/>
<rect x="271" y="431" width="1" height="2"/>
<rect x="322" y="431" width="1" height="2"/>
<rect x="373" y="431" width="1" height="2"/>
<rect x="424" y="431" width="1" height="2"/>
<rect x="475" y="431" width="1" height="2"/>
<rect x="526" y="431" width="1" height="2"/>
<rect x="576" y="431" width="1" height="2"/>
<rect x="627" y="431" width="1" height="2"/>
<rect x="678" y="431" width="1" height="2"/>
<rect x="729" y="431" width="1" height="2"/>
<rect x="780" y="431" width="1" height="2"/>
<rect x="831" y="431" width="1" height="2"/>
</g>
<g font-size="12.3" fill="#464646" text-anchor="end">
<text x="64.9" y="431.2" textLength="7.2" lengthAdjust="spacingAndGlyphs">0</text>
<text x="64.9" y="400.9" textLength="21.6" lengthAdjust="spacingAndGlyphs">200</text>
<text x="64.9" y="370.6" textLength="21.6" lengthAdjust="spacingAndGlyphs">400</text>
<text x="64.9" y="340.3" textLength="21.6" lengthAdjust="spacingAndGlyphs">600</text>
<text x="64.9" y="310.0" textLength="21.6" lengthAdjust="spacingAndGlyphs">800</text>
<text x="64.9" y="279.8" textLength="32.8" lengthAdjust="spacingAndGlyphs">1,000</text>
<text x="64.9" y="249.5" textLength="32.8" lengthAdjust="spacingAndGlyphs">1,200</text>
<text x="64.9" y="219.2" textLength="32.8" lengthAdjust="spacingAndGlyphs">1,400</text>
<text x="64.9" y="188.9" textLength="32.8" lengthAdjust="spacingAndGlyphs">1,600</text>
<text x="64.9" y="158.6" textLength="32.8" lengthAdjust="spacingAndGlyphs">1,800</text>
<text x="64.9" y="128.3" textLength="32.8" lengthAdjust="spacingAndGlyphs">2,000</text>
<text x="64.9" y="98.0" textLength="32.8" lengthAdjust="spacingAndGlyphs">2,200</text>
<text x="64.9" y="67.7" textLength="32.8" lengthAdjust="spacingAndGlyphs">2,400</text>
</g>
<g class="w" font-size="10" fill="#000000" text-anchor="start">
<text x="856" y="430.2">0</text>
<text x="856" y="412.0">2</text>
<text x="856" y="393.9">4</text>
<text x="856" y="375.7">6</text>
<text x="856" y="357.5">8</text>
<text x="856" y="339.3">10</text>
<text x="856" y="321.2">12</text>
<text x="856" y="303.0">14</text>
<text x="856" y="284.8">16</text>
<text x="856" y="266.6">18</text>
<text x="856" y="248.5">20</text>
<text x="856" y="230.3">22</text>
<text x="856" y="212.1">24</text>
<text x="856" y="193.9">26</text>
<text x="856" y="175.8">28</text>
<text x="856" y="157.6">30</text>
<text x="856" y="139.4">32</text>
<text x="856" y="121.2">34</text>
<text x="856" y="103.1">36</text>
<text x="856" y="84.9">38</text>
<text x="856" y="66.7">40</text>
<text x="856" y="48.5">42</text>
</g>
<g font-size="12.3" fill="#464646" text-anchor="middle">
<text x="118.4" y="446.2" textLength="33" lengthAdjust="spacingAndGlyphs">07:00</text>
<text x="169.4" y="446.2" textLength="33" lengthAdjust="spacingAndGlyphs">08:00</text>
<text x="220.4" y="446.2" textLength="33" lengthAdjust="spacingAndGlyphs">09:00</text>
<text x="270.4" y="446.2" textLength="33" lengthAdjust="spacingAndGlyphs">10:00</text>
<text x="321.4" y="446.2" textLength="33" lengthAdjust="spacingAndGlyphs">11:00</text>
<text x="372.4" y="446.2" textLength="33" lengthAdjust="spacingAndGlyphs">12:00</text>
<text x="423.4" y="446.2" textLength="33" lengthAdjust="spacingAndGlyphs">13:00</text>
<text x="474.4" y="446.2" textLength="33" lengthAdjust="spacingAndGlyphs">14:00</text>
<text x="525.4" y="446.2" textLength="33" lengthAdjust="spacingAndGlyphs">15:00</text>
<text x="575.4" y="446.2" textLength="33" lengthAdjust="spacingAndGlyphs">16:00</text>
<text x="626.4" y="446.2" textLength="33" lengthAdjust="spacingAndGlyphs">17:00</text>
<text x="677.4" y="446.2" textLength="33" lengthAdjust="spacingAndGlyphs">18:00</text>
<text x="728.4" y="446.2" textLength="33" lengthAdjust="spacingAndGlyphs">19:00</text>
<text x="779.4" y="446.2" textLength="33" lengthAdjust="spacingAndGlyphs">20:00</text>
<text x="830.4" y="446.2" textLength="33" lengthAdjust="spacingAndGlyphs">21:00</text>
</g>
<text x="460.7" y="464.6" font-size="14.3" fill="#333333" stroke="#333333" stroke-width="0.35" text-anchor="middle" textLength="30.5" lengthAdjust="spacingAndGlyphs">time</text>
<text transform="translate(25.2,231.6) rotate(-90)" font-size="14.3" fill="#333333" stroke="#333333" stroke-width="0.35" text-anchor="middle" textLength="34.5" lengthAdjust="spacingAndGlyphs">Watt</text>
<text transform="translate(875.8,230.5) rotate(90) scale(0.84,1.08)" font-size="12.3" fill="#000000" text-anchor="middle" class="l">%</text>
<rect x="121.5" y="477.5" width="657" height="21" fill="#ffffff" stroke="#000000" stroke-width="1" shape-rendering="crispEdges"/>
<rect x="124" y="487" width="16" height="2" fill="#cc00cc"/>
<rect x="452" y="487" width="16" height="2" fill="#0033cc"/>
<circle cx="132" cy="488" r="1.5" fill="#cc00cc"/>
<circle cx="460" cy="488" r="1.5" fill="#0033cc"/>
<g font-size="12" fill="#404040">
<text y="492.4"><tspan x="142.5" textLength="93.3" lengthAdjust="spacingAndGlyphs">SB3000TL-20-SN</tspan><tspan x="235.8" textLength="67.4" lengthAdjust="spacingAndGlyphs">2100578613</tspan><tspan x="305.0" textLength="7.8" lengthAdjust="spacingAndGlyphs">_</tspan><tspan x="312.8" textLength="13.0" lengthAdjust="spacingAndGlyphs">21</tspan><tspan x="325.8" textLength="39.7" lengthAdjust="spacingAndGlyphs">panels(</tspan> <tspan x="369.9" textLength="38.0" lengthAdjust="spacingAndGlyphs">12.656</tspan> <tspan x="411.8" textLength="26.6" lengthAdjust="spacingAndGlyphs">kWh</tspan> <tspan x="442.1" textLength="4.8" lengthAdjust="spacingAndGlyphs">)</tspan></text>
<text y="492.4"><tspan x="470.5" textLength="93.3" lengthAdjust="spacingAndGlyphs">SB3000TL-21-SN</tspan><tspan x="563.8" textLength="67.4" lengthAdjust="spacingAndGlyphs">2130032031</tspan><tspan x="633.0" textLength="7.8" lengthAdjust="spacingAndGlyphs">_</tspan><tspan x="640.8" textLength="13.0" lengthAdjust="spacingAndGlyphs">19</tspan><tspan x="653.8" textLength="39.7" lengthAdjust="spacingAndGlyphs">panels(</tspan> <tspan x="697.9" textLength="38.0" lengthAdjust="spacingAndGlyphs">11.957</tspan> <tspan x="739.8" textLength="26.6" lengthAdjust="spacingAndGlyphs">kWh</tspan> <tspan x="770.1" textLength="4.8" lengthAdjust="spacingAndGlyphs">)</tspan></text>
</g>
</svg></body></html>
